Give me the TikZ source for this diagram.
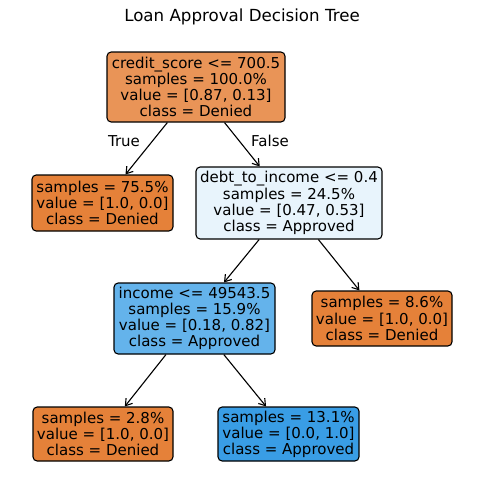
\documentclass[tikz,border=0pt]{standalone}
\usepackage{fontspec}
\setmainfont{DejaVu Sans}
\usetikzlibrary{arrows.meta}
\definecolor{den}{HTML}{E58139}
\definecolor{denroot}{HTML}{E99457}
\definecolor{app}{HTML}{399DE5}
\definecolor{appinc}{HTML}{64B3EB}
\definecolor{appdebt}{HTML}{E8F4FC}
\begin{document}
\begin{tikzpicture}[x=0.72pt,y=-0.72pt,
  treenode/.style={draw=black, line width=0.8pt, rounded corners=3pt, align=center, inner sep=0pt,
    font=\fontsize{10.8}{11.6}\selectfont},
  edge/.style={draw=black, line width=0.8pt, -{Straight Barb[length=4.5pt,width=6pt]}},
  lbl/.style={font=\fontsize{10.8}{12}\selectfont}]
\useasboundingbox (0,0) rectangle (484,502);
\node[font=\fontsize{12}{14}\selectfont] (title) at (242,17) {Loan Approval Decision Tree};
\node[treenode, fill=denroot, minimum width=178*0.72pt, minimum height=70*0.72pt] (root) at (196,87)
  {credit\_score <= 700.5\\samples = 100.0\%\\value = [0.87, 0.13]\\class = Denied};
\node[treenode, fill=den, minimum width=141*0.72pt, minimum height=56*0.72pt] (l1) at (102.5,203)
  {samples = 75.5\%\\value = [1.0, 0.0]\\class = Denied};
\node[treenode, fill=appdebt, minimum width=186*0.72pt, minimum height=72*0.72pt] (debt) at (289,203)
  {debt\_to\_income <= 0.4\\samples = 24.5\%\\value = [0.47, 0.53]\\class = Approved};
\node[treenode, fill=appinc, minimum width=161*0.72pt, minimum height=71*0.72pt] (inc) at (194.5,318.5)
  {income <= 49543.5\\samples = 15.9\%\\value = [0.18, 0.82]\\class = Approved};
\node[treenode, fill=den, minimum width=140*0.72pt, minimum height=55*0.72pt] (r2) at (382,318.5)
  {samples = 8.6\%\\value = [1.0, 0.0]\\class = Denied};
\node[treenode, fill=den, minimum width=140*0.72pt, minimum height=54*0.72pt] (ll) at (103,434)
  {samples = 2.8\%\\value = [1.0, 0.0]\\class = Denied};
\node[treenode, fill=app, minimum width=141*0.72pt, minimum height=54*0.72pt] (lr) at (288.5,434)
  {samples = 13.1\%\\value = [0.0, 1.0]\\class = Approved};
\draw[edge] (root) -- (l1);
\draw[edge] (root) -- (debt);
\draw[edge] (debt) -- (inc);
\draw[edge] (debt) -- (r2);
\draw[edge] (inc) -- (ll);
\draw[edge] (inc) -- (lr);
\node[lbl] (true) at (124,141) {True};
\node[lbl] (false) at (270,141) {False};
\end{tikzpicture}
\end{document}
